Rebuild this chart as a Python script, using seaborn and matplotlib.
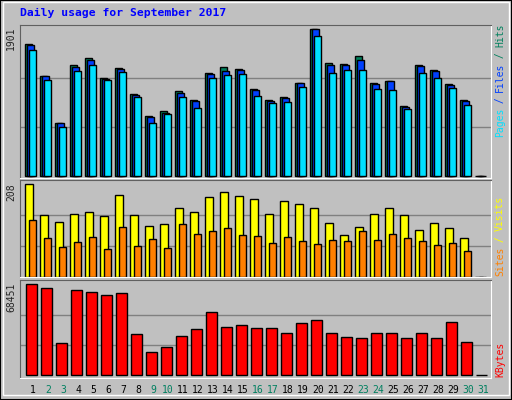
import numpy as np
import pandas as pd
import matplotlib
matplotlib.use("Agg")
import matplotlib.pyplot as plt
import seaborn as sns
from matplotlib.patches import Rectangle

days = list(range(1, 32))
hits = [1707,1292,683,1434,1525,1266,1395,1058,773,838,1097,981,1331,1408,1382,1123,981,1020,1201,1901,1460,1447,1551,1201,1227,903,1434,1370,1188,981,0]
files = [1694,1292,683,1408,1499,1253,1382,1045,760,821,1071,968,1318,1357,1370,1110,968,1007,1201,1901,1434,1434,1499,1188,1227,890,1421,1357,1175,968,0]
pages = [1629,1240,631,1357,1434,1240,1344,1020,683,799,1020,877,1266,1305,1318,1033,942,955,1149,1810,1331,1370,1370,1123,1110,864,1331,1266,1136,916,0]
visits = [208,140,124,142,147,136,185,140,115,118,154,147,179,190,181,176,142,170,165,156,122,95,113,142,156,140,106,122,109,88,0]
sites = [127,88,68,79,90,63,113,70,86,66,118,97,104,111,95,93,77,90,81,75,84,81,104,84,97,88,81,72,77,59,0]
kbytes = [68451,65436,24070,63940,62430,60170,61680,30840,17300,21060,29330,34600,47390,36100,37610,35350,35350,31590,39110,41370,31590,28580,27830,31590,31590,27830,31590,27830,39860,24820,0]
weekend = {2,3,9,10,16,17,23,24,30,31}

sns.set_style("white")
plt.rcParams['font.family'] = ['DejaVu Sans Mono', 'DejaVu Sans']
BG = "#C0C0C0"
fig = plt.figure(figsize=(5.12, 4.0), dpi=100, facecolor=BG)
fig.patches.append(Rectangle((0, 0), 1, 1, transform=fig.transFigure, fill=False, ec="black", lw=1.5))
fig.patches.append(Rectangle((0.006, 0.012), 0.988, 0.982, transform=fig.transFigure, fill=False, ec="white", lw=1))

def panel(bottom_px, top_px):
    return fig.add_axes([20/512, 1-bottom_px/400, 471/512, (bottom_px-top_px)/400])

def style(ax, ymax, ylo, yhi):
    ax.set_facecolor(BG)
    ax.set_xlim(0.133, 31.53)
    ax.set_ylim(ylo, yhi)
    for v in (ymax/3, 2*ymax/3):
        ax.axhline(v, color="#808080", lw=1, zorder=0)
    ax.set_xticks([]); ax.set_yticks([])
    ax.set_xlabel(""); ax.set_ylabel("")
    if ax.get_legend(): ax.get_legend().remove()
    for s in ("top", "left"):
        ax.spines[s].set_color("#606060")
    for s in ("bottom", "right"):
        ax.spines[s].set_color("white")

def bars(ax, vals, off, width, color):
    df = pd.DataFrame({"x": np.array(days) + off, "y": vals})
    sns.barplot(data=df, x="x", y="y", native_scale=True, width=width,
                color=color, saturation=1, edgecolor="black", linewidth=1, ax=ax, zorder=2)

ax1 = panel(178, 25)
bars(ax1, hits, -0.29, 0.48, "#00805C")
bars(ax1, files, -0.16, 0.48, "#0040FF")
bars(ax1, pages, -0.03, 0.48, "#00E0FF")
style(ax1, 1901, -26, 1957)

ax2 = panel(277, 180)
bars(ax2, visits, -0.27, 0.55, "#FFFF00")
bars(ax2, sites, -0.03, 0.52, "#FF8000")
style(ax2, 208, 0, 218)

ax3 = panel(378, 280)
bars(ax3, kbytes, -0.1, 0.68, "#FF0000")
style(ax3, 68451, -2000, 71700)

fig.text(20/512, 1-16/400, "Daily usage for September 2017", color="#0000FF",
         fontsize=8.2, fontweight="bold", va="baseline")

def ylab(txt, top_px):
    fig.text(11/512, 1-top_px/400, txt, rotation=90, fontsize=7, va="top", ha="center")
ylab("1901", 27); ylab("208", 183); ylab("68451", 283)

def rlabel(parts, bottom_px):
    y = bottom_px
    cw = 5.6
    for t, c in parts:
        fig.text(500/512, 1-y/400, t, rotation=90, color=c, fontsize=7, va="bottom", ha="center")
        y -= cw*len(t)
rlabel([("Pages", "#00E0FF"), (" / ", "#0040FF"), ("Files", "#0040FF"), (" / ", "#00805C"), ("Hits", "#00805C")], 137)
rlabel([("Sites", "#FF8000"), (" / ", "#FFFF00"), ("Visits", "#FFFF00")], 276)
rlabel([("KBytes", "#FF0000")], 377)

for d in days:
    x = 20/512 + (471/512)*(d-0.133)/(31.53-0.133)
    fig.text(x, 1-390/400, str(d), fontsize=7, ha="center", va="center",
             color="#008060" if d in weekend else "black")

fig.savefig("out.png", dpi=100, facecolor=BG)
